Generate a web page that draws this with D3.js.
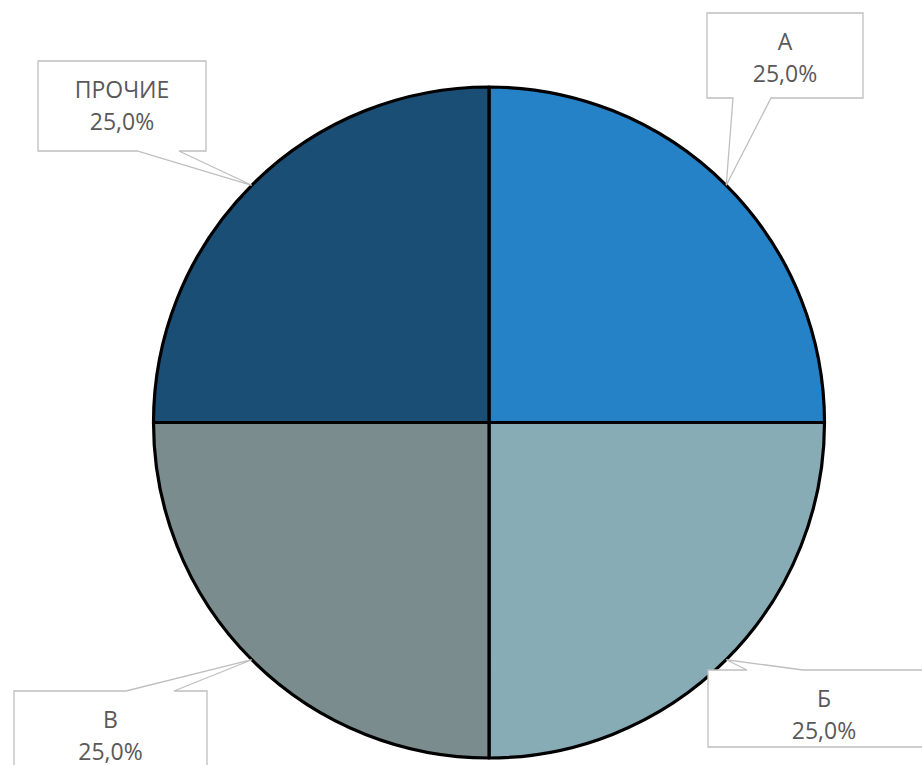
<!DOCTYPE html>
<html>
<head>
<meta charset="utf-8">
<script src="https://cdn.jsdelivr.net/npm/d3@7"></script>
<style>
  body { margin: 0; background: #fff; }
  svg { display: block; }
</style>
</head>
<body>
<svg id="chart"></svg>
<script>
const size = { w: 922, h: 765 };

// data
const categories = ["А", "Б", "В", "ПРОЧИЕ"];
const shares = [25.0, 25.0, 25.0, 25.0];
const colors = ["#2682C6", "#87ACB6", "#7B8C8E", "#1B4E75"];

// callout boxes (layout only), pointer base on top or bottom edge
const callouts = {
	"А": { x: 707, y: 13, w: 156, h: 85, edge: "bottom", b1: 733, b2: 771 },
	"Б": { x: 708, y: 670, w: 232, h: 77, edge: "top", b1: 747, b2: 803 },
	"В": { x: 14, y: 691, w: 193, h: 90, edge: "top", b1: 126, b2: 174 },
	"ПРОЧИЕ": { x: 38, y: 61, w: 168, h: 90, edge: "bottom", b1: 137, b2: 179 },
};

const cx = 489, cy = 422.5, r = 335.5;

const svg = d3.select("svg#chart").attr("width", size.w).attr("height", size.h);

const data = categories.map((c, i) => ({ name: c, value: shares[i], color: colors[i] }));

const pie = d3.pie().sort(null).value((d) => d.value);
const arc = d3.arc().innerRadius(0).outerRadius(r);
const edgeArc = d3.arc().innerRadius(r).outerRadius(r);

const arcs = pie(data);

const pieG = svg.append("g").attr("transform", `translate(${cx}, ${cy})`);

pieG
	.selectAll("path")
	.data(arcs)
	.join("path")
	.attr("d", arc)
	.attr("fill", (d) => d.data.color)
	.attr("stroke", "#000")
	.attr("stroke-width", 3.2)
	.attr("stroke-linejoin", "round");

const fmt = (v) => v.toFixed(1).replace(".", ",") + "%";

const labelG = svg.append("g").classed("callouts", true);

arcs.forEach((d) => {
	const c = callouts[d.data.name];
	const [tx, ty] = edgeArc.centroid(d);
	const tip = [cx + tx, cy + ty];
	let p;
	if (c.edge === "bottom") {
		p = `M${c.x},${c.y}H${c.x + c.w}V${c.y + c.h}H${c.b2}L${tip[0]},${tip[1]}L${c.b1},${c.y + c.h}H${c.x}Z`;
	} else {
		p = `M${c.x},${c.y}H${c.b1}L${tip[0]},${tip[1]}L${c.b2},${c.y}H${c.x + c.w}V${c.y + c.h}H${c.x}Z`;
	}
	labelG
		.append("path")
		.attr("d", p)
		.attr("fill", "#fff")
		.attr("stroke", "#BFBFBF")
		.attr("stroke-width", 1.3);

	const text = labelG
		.append("text")
		.attr("x", c.x + c.w / 2)
		.attr("y", c.y + 37)
		.attr("text-anchor", "middle")
		.attr("font-family", "'Open Sans', sans-serif")
		.attr("font-size", 23)
		.attr("fill", "#595959");
	text.append("tspan").attr("x", c.x + c.w / 2).text(d.data.name);
	text.append("tspan").attr("x", c.x + c.w / 2).attr("dy", 31.5).text(fmt(d.data.value));
});
</script>
</body>
</html>
